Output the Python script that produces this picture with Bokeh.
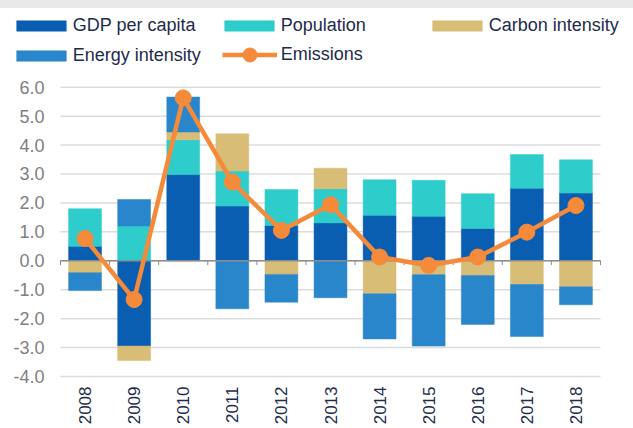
import math
from bokeh.plotting import figure
from bokeh.layouts import column
from bokeh.models import (Legend, LegendItem, FixedTicker, NumeralTickFormatter, Range1d,
                          ColumnDataSource, Div)
from bokeh.embed import file_html
from bokeh.resources import INLINE

years = ["2008", "2009", "2010", "2011", "2012", "2013", "2014", "2015", "2016", "2017", "2018"]
gdp = [0.50, -2.95, 2.98, 1.89, 1.22, 1.31, 1.57, 1.54, 1.12, 2.51, 2.34]
population = [1.30, 1.20, 1.20, 1.21, 1.24, 1.18, 1.23, 1.24, 1.20, 1.16, 1.15]
carbon = [-0.41, -0.50, 0.27, 1.29, -0.47, 0.71, -1.14, -0.48, -0.51, -0.82, -0.90]
energy = [-0.62, 0.92, 1.21, -1.66, -0.96, -1.28, -1.56, -2.47, -1.69, -1.80, -0.62]
emissions = [0.77, -1.34, 5.63, 2.72, 1.05, 1.94, 0.13, -0.16, 0.13, 0.99, 1.91]
y_ticks = [-4, -3, -2, -1, 0, 1, 2, 3, 4, 5, 6]

series = [
    ("GDP per capita", gdp, "#0a5eb2"),
    ("Population", population, "#2ecdcc"),
    ("Carbon intensity", carbon, "#d8bd76"),
    ("Energy intensity", energy, "#2a86ca"),
]
EM_COLOR = "#f68a3b"
FONT = "Liberation Sans"
NAVY = "#1c2b4d"
GRID = "#dcdcdc"
AXIS = "#8c8c8c"

n = len(years)
xs = list(range(n))

# canvas geometry (pixels): plot area spans x 60..600; y -4..6 spans 289 px
W, H = 633, 420
BOTTOM = 44
left_px, right_px = 60, 600
unit_x = (right_px - left_px) / n
x_start = -0.5 - left_px / unit_x
x_end = n - 0.5 + (W - right_px) / unit_x
frame_h = H - BOTTOM
unit_y = 289.3 / 10
y_start = -4 - 8 / unit_y
y_end = y_start + frame_h / unit_y

p = figure(width=W, height=H, output_backend="svg", toolbar_location=None,
           x_range=Range1d(x_start, x_end), y_range=Range1d(y_start, y_end),
           min_border_left=0, min_border_right=0, min_border_top=0, min_border_bottom=BOTTOM)
p.outline_line_color = None
p.grid.visible = False

# horizontal grid lines restricted to the category span
p.segment(x0=[-0.5] * len(y_ticks), x1=[n - 0.5] * len(y_ticks), y0=y_ticks, y1=y_ticks,
          line_color=GRID, line_width=1.5)

pos_base = [0.0] * n
neg_base = [0.0] * n
bar_items = []
for name, vals, color in series:
    bottoms, tops = [], []
    for i, v in enumerate(vals):
        if v >= 0:
            bottoms.append(pos_base[i]); tops.append(pos_base[i] + v); pos_base[i] += v
        else:
            bottoms.append(neg_base[i]); tops.append(neg_base[i] + v); neg_base[i] += v
    src = ColumnDataSource(dict(x=xs, bottom=bottoms, top=tops))
    r = p.vbar(x="x", bottom="bottom", top="top", width=0.67, source=src,
               fill_color=color, line_color=color, line_width=0.5)
    bar_items.append(LegendItem(label=name, renderers=[r]))

# zero axis line and category ticks
bounds = [i - 0.5 for i in range(n + 1)]
p.segment(x0=[-0.5], x1=[n - 0.5], y0=[0], y1=[0], line_color=AXIS, line_width=1.5)
p.segment(x0=bounds, x1=bounds, y0=[0] * len(bounds), y1=[-0.15] * len(bounds),
          line_color=AXIS, line_width=1)

esrc = ColumnDataSource(dict(x=xs, y=emissions))
eline = p.line(x="x", y="y", source=esrc, line_color=EM_COLOR, line_width=4.5)
edots = p.scatter(x="x", y="y", source=esrc, size=16, fill_color=EM_COLOR, line_color=EM_COLOR)

p.yaxis.fixed_location = -0.5
p.yaxis.ticker = FixedTicker(ticks=y_ticks)
p.yaxis.formatter = NumeralTickFormatter(format="0.0")
p.yaxis.axis_line_color = None
p.yaxis.major_tick_line_color = None
p.yaxis.minor_tick_line_color = None
p.yaxis.major_tick_out = 0
p.yaxis.minor_tick_out = 0
p.yaxis.major_label_standoff = 16
p.yaxis.major_label_text_font = FONT
p.yaxis.major_label_text_font_size = "18px"
p.yaxis.major_label_text_color = "#808080"

p.xaxis.ticker = FixedTicker(ticks=xs)
p.xaxis.major_label_overrides = {i: y for i, y in enumerate(years)}
p.xaxis.major_label_orientation = math.pi / 2
p.xaxis.axis_line_color = None
p.xaxis.major_tick_line_color = None
p.xaxis.minor_tick_line_color = None
p.xaxis.major_tick_out = 0
p.xaxis.minor_tick_out = 0
p.xaxis.major_label_standoff = 2
p.xaxis.major_label_text_font = FONT
p.xaxis.major_label_text_font_size = "17px"
p.xaxis.major_label_text_color = NAVY

legend1 = Legend(items=bar_items, orientation="horizontal", ncols=3,
                 location=(9.8, 318.2), glyph_width=62, glyph_height=13,
                 label_width=136, label_height=21, label_standoff=1, spacing=9,
                 padding=0, margin=0, border_line_color=None, background_fill_alpha=0,
                 label_text_font=FONT, label_text_font_size="18px", label_text_color=NAVY)
p.add_layout(legend1, "center")

legend2 = Legend(items=[LegendItem(label="Emissions", renderers=[eline, edots])],
                 location=(221.7, 312.2), glyph_width=55, glyph_height=35,
                 label_height=21, label_standoff=4, spacing=0,
                 padding=0, margin=0, border_line_color=None, background_fill_alpha=0,
                 label_text_font=FONT, label_text_font_size="18px", label_text_color=NAVY)
p.add_layout(legend2, "center")

band = Div(text="", width=W, height=8, margin=0, styles={"background-color": "#e9e9e9"})
layout = column(band, p, spacing=0)
open("out.html", "w").write(file_html(layout, INLINE))
